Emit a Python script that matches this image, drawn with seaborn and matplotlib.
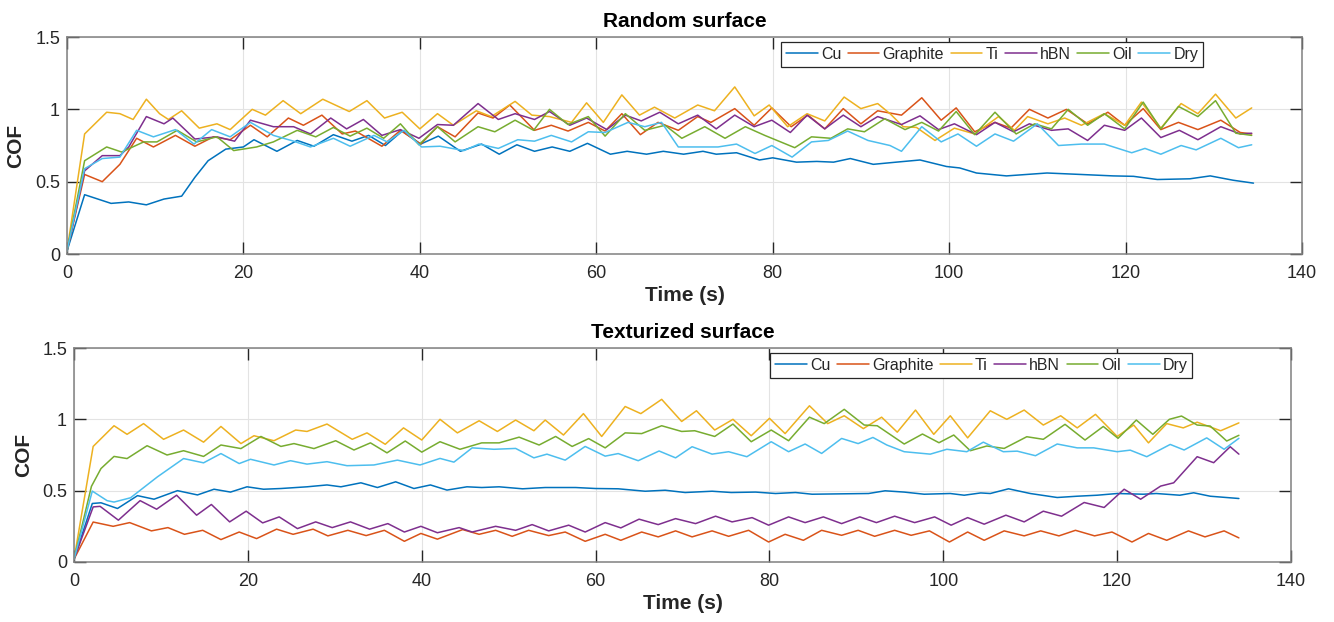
import matplotlib
matplotlib.use("Agg")
import matplotlib.pyplot as plt
import seaborn as sns
import pandas as pd
from matplotlib.lines import Line2D

# ---------------- data (time s, COF) ----------------
materials = ["Cu", "Graphite", "Ti", "hBN", "Oil", "Dry"]
colors = ["#0072BD", "#D95319", "#EDB120", "#7E2F8E", "#77AC30", "#4DBEEE"]

# Random surface
rand_cu = [(0,0.02),(2,0.41),(5,0.35),(7,0.36),(9,0.34),(11,0.38),(13,0.40),(14.5,0.53),(16,0.645),(18,0.725),
           (20,0.74),(21.2,0.79),(23.8,0.71),(26.1,0.785),(28,0.745),(30.2,0.825),(32.3,0.78),(34.2,0.82),(36.1,0.75),
           (38,0.85),(40.1,0.76),(42.1,0.815),(44.6,0.71),(47,0.76),(49,0.69),(51,0.755),(53,0.71),(55,0.74),(57,0.71),
           (59,0.765),(61.6,0.69),(63.5,0.71),(65.7,0.69),(67.6,0.71),(69.9,0.69),(72.1,0.71),(73.6,0.69),(75.9,0.70),
           (78.5,0.65),(80,0.665),(82.7,0.635),(85,0.64),(86.9,0.635),(88.8,0.66),(91.4,0.62),(94,0.635),(96.7,0.65),
           (99.7,0.605),(101.2,0.595),(103.1,0.56),(106.5,0.54),(111.1,0.56),(114.9,0.55),(118.6,0.54),(120.9,0.537),
           (123.6,0.515),(127.3,0.52),(129.6,0.54),(132.2,0.51),(134.5,0.49)]
rand_graphite = [(0,0.02),(2,0.55),(4,0.50),(6,0.62),(7.9,0.80),(9.8,0.74),(12.3,0.82),(14.5,0.745),(16.6,0.81),(18.5,0.79),
                 (20.8,0.89),(22.7,0.81),(25.1,0.94),(26.8,0.89),(28.9,0.96),(31.2,0.83),(32.7,0.85),(35.7,0.745),(37.8,0.855),
                 (40.1,0.76),(42,0.88),(44,0.81),(46.6,0.975),(48.3,0.94),(50.2,1.03),(53,0.855),(54.9,0.89),(56.8,0.85),
                 (59.1,0.91),(61,0.85),(62.9,0.97),(65,0.825),(67,0.91),(69.3,0.855),(71.5,0.95),(73,0.91),(75.7,1.005),
                 (77.9,0.89),(79.9,1.01),(82.1,0.88),(84,0.96),(85.9,0.865),(88,1.005),(90,0.90),(91.9,0.99),(94.6,0.96),
                 (96.9,1.08),(99.1,0.925),(100.8,1.01),(102.9,0.845),(105.2,0.91),(107,0.87),(109.1,1.0),(111.2,0.94),
                 (113.3,1.0),(115.7,0.90),(118,0.98),(119.9,0.89),(122,1.005),(124,0.86),(126,0.91),(128.2,0.86),
                 (130.8,0.925),(133,0.84),(134.3,0.83)]
rand_ti = [(0,0.02),(2,0.83),(3,0.89),(4.5,0.98),(6,0.97),(7.5,0.93),(9,1.07),(10.5,0.97),(11.5,0.93),(13,0.99),(15,0.87),
           (17,0.90),(18.5,0.86),(21,1.0),(22.5,0.96),(24.5,1.06),(26.5,0.97),(29,1.07),(32,0.985),(34,1.06),(36,0.94),
           (38,0.98),(40,0.865),(42,0.97),(43.8,0.89),(46.4,0.99),(48.1,0.95),(50.8,1.055),(52.7,0.96),(54.7,0.95),
           (57.2,0.91),(58.9,1.045),(60.8,0.91),(62.9,1.10),(64.9,0.96),(66.6,1.015),(68.9,0.94),(71.5,1.03),(73.4,0.99),
           (75.7,1.155),(77.9,0.955),(79.6,1.03),(81.7,0.88),(83.9,0.97),(85.9,0.92),(88.1,1.085),(90,1.005),(91.9,1.04),
           (93.3,0.97),(94.8,0.88),(96.3,0.875),(98.4,0.785),(100.6,0.87),(102.9,0.83),(105.6,0.95),(107.4,0.855),
           (108.9,0.95),(111.2,0.90),(113.1,0.94),(115,0.89),(117.6,0.97),(119.9,0.89),(121.8,1.05),(124,0.87),
           (126.3,1.04),(128.2,0.97),(130.2,1.105),(132.5,0.94),(134.3,1.01)]
rand_hbn = [(0,0.02),(2,0.575),(4,0.68),(6,0.68),(7,0.74),(9,0.95),(11,0.90),(12,0.94),(14.5,0.795),(17,0.81),(19,0.78),
            (20.8,0.925),(23.4,0.88),(25.7,0.88),(27.6,0.83),(29.9,0.94),(31.7,0.865),(33.6,0.93),(35.7,0.82),(37.8,0.86),
            (39.9,0.80),(42,0.895),(43.8,0.89),(46.6,1.04),(48.9,0.93),(50.8,0.97),(53,0.93),(54.7,0.985),(57,0.89),
            (58.9,0.94),(61.2,0.86),(63.3,0.96),(65.1,0.92),(67.2,0.98),(69.3,0.90),(71.5,0.96),(73.6,0.865),(75.7,0.96),
            (77.9,0.88),(79.9,0.925),(82,0.84),(83.9,0.96),(85.9,0.865),(88,0.96),(90,0.88),(91.9,0.95),(94.6,0.895),
            (96.7,0.955),(98.8,0.86),(100.6,0.90),(103.1,0.825),(105.2,0.91),(107.3,0.845),(109.1,0.90),(111.6,0.855),
            (113.5,0.865),(115.7,0.785),(117.6,0.89),(119.9,0.855),(121.8,0.94),(124,0.805),(126.1,0.855),(128.2,0.79),
            (130.8,0.88),(133,0.83),(134.3,0.835)]
rand_oil = [(0,0.02),(2,0.645),(4.5,0.74),(6.2,0.705),(8.7,0.775),(10.2,0.775),(12.5,0.855),(14.7,0.775),(17,0.81),
            (18.9,0.715),(21.5,0.74),(23.4,0.775),(26.1,0.855),(28.2,0.81),(30.2,0.875),(32.1,0.815),(34,0.87),(35.9,0.80),
            (37.8,0.90),(39.9,0.755),(42,0.88),(44,0.775),(46.6,0.88),(48.5,0.845),(50.8,0.925),(52.9,0.855),(54.7,1.0),
            (56.8,0.895),(59.1,0.95),(61,0.815),(63.3,0.97),(65.5,0.855),(67.8,0.89),(69.7,0.80),(72.3,0.88),(74.6,0.80),
            (76.9,0.88),(79.1,0.82),(82.5,0.735),(84.4,0.81),(86.6,0.80),(88.5,0.865),(90.4,0.845),(92.7,0.935),(95,0.86),
            (96.9,0.91),(98.8,0.85),(100.8,0.985),(102.9,0.825),(105.2,0.98),(107.6,0.83),(109.7,0.90),(111.6,0.865),
            (113.5,1.0),(115.7,0.89),(117.6,0.97),(119.9,0.865),(122,1.05),(124,0.865),(126,1.02),(128.2,0.95),
            (130.2,1.06),(132.5,0.835),(134.3,0.82)]
rand_dry = [(0,0.02),(2,0.59),(4,0.66),(6,0.67),(7.9,0.855),(9.8,0.81),(12.3,0.86),(14.4,0.76),(16.4,0.86),(18.5,0.81),
            (20.8,0.91),(23.4,0.82),(25.7,0.78),(27.6,0.74),(30.2,0.80),(32.1,0.745),(34.8,0.82),(36.3,0.775),(38.2,0.855),
            (40.2,0.74),(42.3,0.745),(45,0.715),(46.7,0.76),(48.9,0.73),(51.1,0.79),(53,0.78),(54.9,0.82),(57.2,0.775),
            (59.1,0.845),(61,0.84),(63.6,0.91),(65.5,0.88),(67.4,0.91),(69.3,0.74),(71.5,0.74),(73.8,0.74),(75.9,0.76),
            (78,0.695),(79.9,0.75),(82.2,0.67),(84.4,0.775),(86.3,0.785),(88.5,0.85),(90.8,0.785),(93.3,0.75),(94.6,0.71),
            (96.9,0.88),(99.1,0.775),(101,0.83),(103.1,0.745),(105.2,0.83),(107.3,0.78),(110,0.90),(112.4,0.75),(115,0.76),
            (117.6,0.76),(120.7,0.70),(122.2,0.73),(124,0.69),(126.3,0.75),(128,0.72),(130.8,0.80),(132.8,0.735),
            (134.3,0.755)]

# Texturized surface
tex_cu = [(0,0.02),(2.1,0.41),(3.1,0.415),(5,0.375),(7.3,0.465),(9.2,0.44),(11.9,0.50),(14.2,0.47),(16.1,0.51),(18,0.49),
          (19.9,0.527),(21.8,0.51),(23.8,0.515),(26.8,0.527),(29.1,0.54),(30.7,0.527),(33,0.555),(34.9,0.522),(37,0.562),
          (39.1,0.515),(41,0.54),(42.9,0.504),(45.2,0.527),(46.9,0.522),(48.9,0.527),(51.6,0.513),(54.2,0.522),(57.7,0.522),
          (60,0.515),(62.6,0.513),(65.7,0.496),(68,0.503),(70.3,0.487),(73.4,0.496),(75.6,0.487),(78.4,0.49),(80.7,0.48),
          (83,0.487),(84.9,0.475),(88.7,0.478),(91.4,0.48),(93.3,0.499),(95.5,0.49),(97.8,0.475),(100.8,0.48),(102.4,0.468),
          (104.3,0.484),(105.4,0.48),(107.5,0.513),(110,0.48),(113.1,0.452),(115.4,0.461),(117.7,0.468),(120,0.48),
          (123,0.475),(124.5,0.48),(127.2,0.468),(128.8,0.485),(130.7,0.461),(134,0.445)]
tex_graphite = [(0,0.02),(2.2,0.28),(4.5,0.25),(6.4,0.276),(8.9,0.218),(10.8,0.241),(12.7,0.194),(14.8,0.222),(16.9,0.157),
                (19,0.21),(21,0.164),(23.3,0.23),(25.2,0.194),(27.5,0.23),(29.2,0.183),(31.5,0.222),(33.6,0.185),(35.7,0.222),
                (38,0.145),(39.9,0.2),(41.8,0.16),(44.7,0.227),(46.6,0.194),(48.5,0.222),(50.4,0.18),(52.3,0.222),(54.6,0.185),
                (56.5,0.21),(58.8,0.145),(61.1,0.194),(62.9,0.152),(65.3,0.21),(67.2,0.176),(69.2,0.218),(71.1,0.176),
                (73.4,0.218),(75.3,0.18),(77.6,0.222),(79.9,0.14),(81.8,0.194),(83.9,0.152),(86,0.222),(88.3,0.187),
                (90.2,0.222),(92.1,0.18),(94.4,0.222),(96.3,0.187),(98.4,0.218),(100.7,0.14),(102.8,0.21),(104.7,0.152),
                (107,0.218),(109.3,0.183),(111.2,0.218),(113.3,0.183),(115.2,0.222),(117.4,0.183),(119.4,0.21),(121.7,0.14),
                (123.6,0.2),(125.7,0.152),(128.2,0.218),(130.1,0.176),(132.3,0.218),(134,0.169)]
tex_ti = [(0,0.02),(2.2,0.81),(4.6,0.955),(6.1,0.895),(8,0.97),(10.3,0.86),(12.6,0.925),(14.9,0.84),(16.9,0.95),(19.2,0.83),
          (20.7,0.885),(23,0.85),(25.5,0.925),(26.8,0.915),(29.1,0.967),(32,0.86),(33.7,0.905),(35.8,0.825),(37.9,0.94),
          (40,0.855),(42.1,1.0),(44.1,0.905),(46.6,0.99),(48.7,0.915),(50.8,0.995),(52.9,0.92),(54.2,0.995),(56.3,0.89),
          (58.6,1.04),(60.7,0.88),(63.4,1.09),(65.2,1.04),(67.6,1.14),(69.9,0.985),(71.6,1.06),(73.7,0.925),(75.8,1.0),
          (77.9,0.885),(80,1.007),(81.8,0.90),(84.6,1.095),(86.7,0.97),(88.6,1.025),(90.8,0.935),(92.9,1.015),(94.7,0.91),
          (96.8,1.065),(98.9,0.895),(100.8,1.025),(102.8,0.87),(105.4,1.06),(107.3,1.0),(109.3,1.065),(111.5,0.96),
          (113.5,1.025),(115.4,0.94),(117.5,1.035),(120,0.88),(121.9,0.96),(123.6,0.835),(125.7,0.97),(127.6,0.94),
          (129.2,0.98),(131.9,0.92),(134,0.975)]
tex_hbn = [(0,0.02),(2.2,0.386),(3,0.39),(5.1,0.293),(7.6,0.43),(9.5,0.37),(11.8,0.468),(14.1,0.328),(15.8,0.403),(17.9,0.281),
           (19.8,0.356),(21.7,0.274),(23.6,0.316),(25.7,0.234),(27.8,0.281),(29.7,0.241),(31.8,0.281),(34,0.23),(36.1,0.269),
           (38,0.21),(39.9,0.25),(41.8,0.205),(44.3,0.241),(45.8,0.21),(48.5,0.25),(50.8,0.222),(52.7,0.262),(54.6,0.218),
           (56.9,0.258),(58.8,0.21),(61.1,0.276),(62.9,0.239),(65,0.3),(67.2,0.262),(69.2,0.304),(71.5,0.269),(73.8,0.321),
           (75.7,0.281),(78,0.311),(79.9,0.258),(82.2,0.316),(84.1,0.276),(86.2,0.316),(88.3,0.269),(90.4,0.316),
           (92.3,0.276),(94.4,0.321),(96.7,0.276),(99,0.316),(100.9,0.258),(102.8,0.311),(104.7,0.265),(107.2,0.328),
           (109.3,0.281),(111.5,0.356),(113.6,0.321),(116.2,0.417),(118.5,0.382),(120.8,0.51),(122.7,0.44),(125,0.532),
           (126.5,0.555),(129.2,0.738),(131.1,0.696),(133,0.808),(134,0.756)]
tex_oil = [(0,0.02),(2,0.53),(3.1,0.655),(4.6,0.74),(6.1,0.725),(8.4,0.815),(10.7,0.75),(12.6,0.78),(14.9,0.74),(16.9,0.82),
           (19.2,0.795),(21.5,0.88),(23.8,0.81),(25.3,0.83),(27.6,0.795),(30.1,0.85),(32.2,0.785),(34.1,0.835),(36,0.765),
           (38.1,0.848),(40,0.77),(42.1,0.843),(44.4,0.79),(46.9,0.835),(48.9,0.835),(51.2,0.875),(53.5,0.82),(55.4,0.88),
           (57.3,0.81),(59.2,0.865),(61.1,0.80),(63.4,0.905),(65.3,0.90),(67.6,0.955),(69.9,0.915),(71.4,0.92),(73.7,0.88),
           (75.8,0.967),(77.9,0.843),(80.2,0.925),(82.2,0.85),(84.6,1.015),(86.3,0.97),(88.6,1.07),(90.9,0.96),(92.4,0.955),
           (95.5,0.827),(97.6,0.897),(99.5,0.836),(101.2,0.89),(103.1,0.78),(105,0.813),(107,0.796),(109.6,0.878),
           (111.5,0.86),(114,0.965),(116.3,0.855),(118.4,0.95),(120.1,0.867),(122.2,0.995),(124.1,0.895),(126,1.0),
           (127.4,1.023),(129.2,0.96),(130.7,0.953),(132.6,0.848),(134,0.888)]
tex_dry = [(0,0.02),(2.1,0.497),(3.8,0.43),(4.6,0.42),(6.5,0.45),(9.6,0.597),(12.6,0.725),(14.9,0.695),(16.9,0.76),(19,0.69),
           (20.3,0.72),(23,0.68),(24.9,0.71),(26.8,0.686),(29.1,0.703),(31.4,0.675),(34.5,0.68),(37.2,0.714),(39.8,0.68),
           (42.1,0.726),(43.7,0.70),(45.8,0.80),(48.3,0.79),(50.8,0.796),(52.9,0.73),(54.4,0.756),(56.5,0.714),(58.8,0.81),
           (61.1,0.742),(62.6,0.76),(64.9,0.71),(67.3,0.778),(69.2,0.73),(71.1,0.808),(73.4,0.756),(75.3,0.773),(77.4,0.738),
           (80.2,0.843),(82.2,0.773),(84.1,0.827),(86,0.761),(88.3,0.866),(90.2,0.83),(91.9,0.873),(93.5,0.82),(95.5,0.773),
           (98.5,0.756),(100.4,0.79),(102.7,0.773),(104.6,0.84),(106.9,0.773),(108.5,0.777),(110.6,0.745),(113.1,0.827),
           (115.4,0.80),(117.3,0.80),(120,0.773),(121.5,0.784),(123.4,0.738),(126.1,0.824),(127.7,0.785),(130.3,0.87),
           (132.3,0.79),(134,0.867)]

random_series = [rand_cu, rand_graphite, rand_ti, rand_hbn, rand_oil, rand_dry]
textured_series = [tex_cu, tex_graphite, tex_ti, tex_hbn, tex_oil, tex_dry]

panel_titles = ["Random surface", "Texturized surface"]
x_ticks = [0, 20, 40, 60, 80, 100, 120, 140]
y_ticks = [0, 0.5, 1, 1.5]
y_ticklabels = ["0", "0.5", "1", "1.5"]


def to_frame(series_list):
    rows = []
    for name, pts in zip(materials, series_list):
        for t, v in pts:
            rows.append({"Time": t, "COF": v, "Material": name})
    return pd.DataFrame(rows)


sns.set_style("white")
plt.rcParams["font.family"] = ["Liberation Sans", "DejaVu Sans"]

fig = plt.figure(figsize=(13.34, 6.22), dpi=100)
ax1 = fig.add_axes([0.0502, 0.5916, 0.9258, 0.3489])
ax2 = fig.add_axes([0.0555, 0.0965, 0.9123, 0.3440])

palette = dict(zip(materials, colors))
tick_col = "#262626"

for ax, series, title, legx in [(ax1, random_series, panel_titles[0], 0.920),
                                (ax2, textured_series, panel_titles[1], 0.919)]:
    df = to_frame(series)
    sns.lineplot(data=df, x="Time", y="COF", hue="Material", hue_order=materials,
                 palette=palette, estimator=None, sort=True, linewidth=1.1, ax=ax, legend=False)
    for ln in ax.get_lines():
        ln.set_solid_joinstyle("round")
    ax.set_xlim(0, 140)
    ax.set_ylim(0, 1.5)
    ax.set_xticks(x_ticks)
    ax.set_yticks(y_ticks)
    ax.set_yticklabels(y_ticklabels)
    ax.grid(True, color="#e3e3e3", linewidth=0.8)
    ax.set_axisbelow(True)
    for sp in ax.spines.values():
        sp.set_color("#808080")
        sp.set_linewidth(1.1)
        sp.set_visible(True)
    ax.tick_params(direction="in", length=8.5, width=1.0, color=tick_col,
                   labelcolor=tick_col, labelsize=13, top=True, right=True,
                   bottom=True, left=True)
    ax.tick_params(axis="x", pad=8)
    ax.tick_params(axis="y", pad=5)
    ax.set_title(title, fontsize=15, fontweight="bold", pad=7, color="black")
    ax.set_xlabel("Time (s)", fontsize=15, fontweight="bold", labelpad=3)
    ax.set_ylabel("COF", fontsize=15, fontweight="bold")
    ax.yaxis.set_label_coords(-0.034, 0.5)

    handles = [Line2D([0], [0], color=c, lw=1.1) for c in colors]
    leg = ax.legend(handles, materials, ncol=6, loc="upper right",
                    bbox_to_anchor=(legx, 0.977), borderaxespad=0,
                    fontsize=11.5, handlelength=2.0, handletextpad=0.2,
                    columnspacing=0.4, borderpad=0.3, fancybox=False,
                    framealpha=1, edgecolor=tick_col)
    leg.get_frame().set_linewidth(0.9)

fig.savefig("out.png", dpi=100)
